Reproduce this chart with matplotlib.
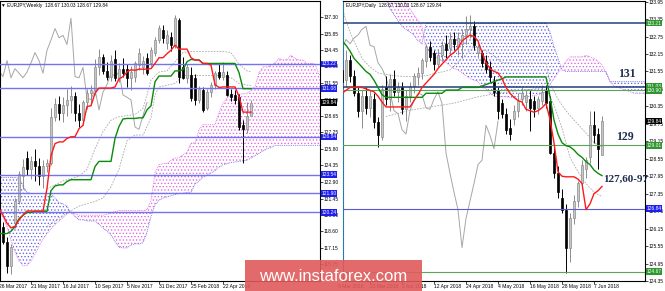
import numpy as np
import matplotlib
matplotlib.use("Agg")
import matplotlib.pyplot as plt
from matplotlib.patches import Rectangle

# ---------------- WEEKLY DATA (bar index 0 = week of 26 Mar 2017) ----------------
W_BAR_IDX = list(range(1, 64))
W_OPEN = [119.0, 117.7, 115.6, 119.3, 121.2, 123.4, 125.0, 124.0, 124.7, 124.3,
          123.4, 124.3, 124.6, 128.6, 129.7, 128.9, 129.6, 130.1, 130.4, 128.9,
          128.3, 129.9, 130.7, 130.9, 132.9, 133.8, 132.6, 132.1, 133.6, 132.0,
          132.8, 132.8, 132.0, 132.1, 133.1, 132.9, 133.7, 133.3, 134.2, 135.3,
          136.2, 135.0, 135.6, 134.8, 137.0, 132.9, 132.0, 132.2, 132.0, 130.1,
          130.9, 129.4, 130.75, 131.4, 132.5, 132.1, 132.2, 130.6, 130.5, 130.3,
          127.9, 127.5, 128.67]
W_HIGH = [119.4, 118.1, 117.5, 121.5, 123.9, 124.9, 125.6, 125.2, 125.8, 125.0,
          124.8, 124.9, 129.4, 130.2, 130.4, 130.3, 131.0, 131.3, 130.8, 129.7,
          130.1, 131.0, 131.4, 133.6, 134.5, 134.1, 133.4, 134.0, 134.4, 133.3,
          133.7, 133.2, 133.0, 133.5, 134.6, 133.9, 134.2, 134.7, 135.6, 136.6,
          136.6, 136.2, 136.0, 137.5, 137.2, 133.8, 133.2, 132.9, 132.3, 131.3,
          131.2, 131.0, 131.6, 132.6, 133.3, 133.4, 132.6, 131.0, 130.9, 130.6,
          128.3, 129.9, 130.03]
W_LOW = [117.5, 115.0, 114.9, 118.9, 121.0, 122.3, 123.5, 123.2, 123.0, 122.6,
         122.4, 123.8, 124.4, 128.2, 128.3, 128.1, 128.7, 128.9, 128.2, 127.7,
         127.9, 129.3, 129.7, 130.5, 132.2, 132.3, 131.8, 131.7, 131.7, 131.6,
         132.1, 131.2, 130.9, 131.6, 132.7, 132.3, 132.2, 133.0, 133.9, 135.0,
         135.0, 134.5, 134.3, 134.6, 131.5, 131.9, 131.5, 130.0, 129.6, 129.8,
         129.0, 129.2, 130.3, 131.0, 131.9, 131.8, 130.4, 130.0, 129.7, 127.4,
         124.6, 127.2, 128.67]
W_CLOSE = [117.7, 115.6, 117.2, 121.2, 123.6, 124.2, 124.0, 124.7, 124.3, 123.4,
           124.3, 124.6, 128.6, 129.7, 128.9, 129.6, 130.1, 130.4, 128.9, 128.3,
           129.9, 130.7, 130.9, 132.9, 133.8, 132.6, 132.1, 133.5, 132.0, 132.8,
           132.4, 132.0, 132.5, 133.3, 134.2, 133.5, 132.4, 134.4, 135.3, 136.3,
           135.5, 135.7, 134.9, 137.2, 132.1, 132.0, 132.9, 130.2, 130.1, 131.0,
           129.2, 130.75, 131.4, 132.4, 132.1, 132.5, 130.5, 130.3, 130.06, 127.7,
           127.5, 128.7, 129.84]

W_LINE_IDX = list(range(0, 64))
W_TENKAN = [120.6, 120.0, 119.3, 118.9, 119.0, 119.6, 120.0, 120.37, 120.37, 120.35,
            120.35, 120.35, 122.35, 125.2, 126.25, 126.4, 126.4, 126.7, 126.85, 126.85,
            127.55, 127.85, 129.5, 129.55, 130.65, 131.1, 131.1, 131.1, 131.1, 131.2,
            131.9, 132.1, 132.5, 132.7, 132.65, 132.75, 132.75, 132.75, 132.8, 133.25,
            133.75, 133.75, 134.1, 134.4, 134.85, 134.5, 134.5, 134.5, 133.75, 133.55,
            133.55, 133.25, 133.25, 133.1, 131.4, 131.15, 131.2, 131.2, 131.2, 131.2,
            130.4, 129.0, 129.0, 129.0]
W_KIJUN = [118.4, 118.4, 118.4, 118.6, 119.0, 119.7, 120.0, 120.25, 120.25, 120.35,
           120.35, 120.35, 120.35, 122.15, 122.55, 122.65, 122.65, 122.95, 123.1, 123.1,
           123.1, 123.1, 123.1, 123.1, 124.25, 124.7, 124.7, 124.7, 124.7, 126.7,
           127.75, 128.4, 128.45, 128.45, 128.45, 128.5, 128.5, 129.2, 129.55, 131.65,
           132.15, 132.15, 132.15, 132.15, 132.6, 132.6, 132.7, 133.4, 133.6, 133.55,
           133.55, 133.25, 133.25, 133.25, 133.25, 133.25, 133.25, 133.25, 133.25, 133.25,
           132.45, 131.05, 131.05, 131.05]

W_SPAN_IDX = list(range(0, 82))
W_SPAN_A = [120.5, 119.8, 119.0, 117.8, 116.8, 116.0, 115.6, 115.6, 116.0, 116.6,
            117.3, 117.9, 118.4, 118.8, 119.2, 119.5, 119.8, 120.1, 120.3, 120.1,
            120.0, 120.0, 120.0, 120.0, 120.0, 120.0, 120.0, 120.1, 120.2, 120.3,
            120.4, 120.4, 120.4, 120.4, 120.4, 120.4, 120.4, 120.5, 121.3, 123.7,
            124.4, 124.5, 124.5, 124.8, 125.0, 125.0, 125.3, 125.5, 126.3, 126.3,
            127.45, 127.9, 127.9, 127.9, 127.9, 128.95, 129.8, 130.25, 130.5, 130.6,
            130.55, 130.6, 130.6, 131.0, 131.2, 132.45, 132.95, 132.95, 133.1, 133.3,
            133.7, 133.55, 133.6, 133.95, 133.7, 133.55, 133.55, 133.25, 133.25, 133.2,
            132.3, 132.2]
W_SPAN_B = [123.3, 123.3, 123.3, 123.3, 123.3, 123.2, 122.6, 122.0, 121.9, 121.9,
            121.9, 121.9, 121.9, 121.9, 121.5, 121.1, 121.0, 120.8, 120.2, 119.9,
            119.6, 119.6, 119.5, 119.5, 119.5, 119.2, 118.9, 118.6, 118.3, 117.7,
            117.2, 117.15, 117.15, 117.4, 117.5, 117.5, 117.6, 118.5, 119.9, 120.9,
            121.3, 121.5, 121.6, 121.7, 121.8, 121.9, 121.9, 122.0, 122.0, 122.7,
            123.0, 123.3, 123.5, 123.7, 123.9, 124.2, 124.4, 124.5, 124.6, 124.65,
            124.7, 124.75, 124.8, 125.0, 125.2, 125.4, 125.6, 125.8, 125.9, 126.1,
            126.1, 126.1, 126.1, 126.1, 126.1, 126.1, 126.1, 126.1, 126.1, 126.1,
            126.1, 126.1]

W_DASH1_X = [12, 16, 20, 22, 24, 26, 28, 30, 34, 36, 37, 38, 40, 42, 44, 46, 48, 56, 58, 60, 62, 63]
W_DASH1_Y = [122.3, 123.0, 123.4, 124.0, 125.8, 127.3, 128.3, 128.6, 128.8, 129.3, 130.5,
             131.8, 132.5, 132.6, 133.4, 134.2, 134.3, 134.3, 134.2, 133.2, 132.6, 132.5]
W_DASH2_X = [12, 16, 20, 24, 26, 28, 30, 32, 34, 36, 38, 39, 40, 44, 46, 56, 58, 60, 63]
W_DASH2_Y = [119.0, 120.0, 120.8, 121.2, 121.5, 122.5, 124.0, 126.5, 127.0, 127.0, 128.5,
             130.5, 131.2, 131.5, 132.2, 132.2, 132.0, 131.5, 131.3]

W_LEVELS = [133.22, 131.08, 126.84, 123.54, 121.90, 120.24]
W_LEVEL_LABELS = ["133.22", "131.08", "126.84", "123.54", "121.90", "120.24"]
W_YTICKS = [137.30, 135.85, 134.45, 133.00, 131.55, 130.10, 128.65, 127.25,
            125.80, 124.35, 122.90, 121.45, 120.00, 118.60, 117.15, 115.75]
W_XTICK_POS = [0, 8, 16, 24, 32, 40, 48, 56]
W_XTICK_LABELS = ["26 Mar 2017", "21 May 2017", "16 Jul 2017", "10 Sep 2017",
                  "5 Nov 2017", "31 Dec 2017", "25 Feb 2018", "22 Apr 2018"]

# ---------------- DAILY DATA (bar index 0 = 9 Mar 2018) ----------------
D_BAR_IDX = list(range(1, 67))
D_OPEN = [131.6, 131.25, 131.95, 131.4, 130.8, 130.2, 130.7, 130.3, 130.6, 129.8,
          129.3, 131.0, 130.6, 131.3, 130.85, 131.0, 130.25, 130.7, 131.05, 131.35,
          131.5, 131.9, 132.4, 132.2, 131.8, 132.1, 132.5, 132.35, 132.65, 132.4,
          132.5, 132.8, 133.0, 133.1, 132.2, 132.2, 131.9, 131.7, 131.2, 130.9,
          130.45, 130.1, 129.6, 129.9, 130.2, 130.6, 130.5, 130.6, 130.55, 130.3,
          130.55, 130.9, 130.55, 128.75, 128.05, 127.2, 126.8, 125.5, 126.5, 127.1,
          127.7, 128.2, 128.6, 129.7, 129.4, 128.67]
D_HIGH = [131.9, 132.3, 132.1, 131.6, 131.0, 130.9, 131.0, 130.9, 130.8, 130.0,
          131.1, 131.4, 131.45, 131.6, 131.2, 131.2, 130.9, 131.2, 131.5, 131.7,
          132.0, 132.5, 132.6, 132.3, 132.3, 132.6, 132.8, 132.9, 132.9, 132.9,
          133.0, 133.45, 133.5, 133.3, 132.5, 132.3, 132.1, 131.9, 131.4, 131.0,
          130.6, 130.3, 129.9, 130.4, 130.8, 131.0, 130.9, 130.9, 130.7, 130.7,
          131.1, 131.1, 130.7, 129.0, 128.3, 127.5, 127.0, 126.7, 127.3, 127.8,
          128.5, 128.6, 130.2, 130.2, 129.6, 130.03]
D_LOW = [130.9, 131.0, 131.2, 130.7, 130.0, 129.6, 130.1, 130.0, 129.6, 128.95,
         129.2, 130.4, 130.2, 130.7, 130.5, 130.1, 129.85, 130.5, 130.8, 131.1,
         131.3, 131.7, 131.9, 131.6, 131.7, 131.9, 132.0, 132.1, 132.3, 132.1,
         132.0, 132.5, 132.7, 132.3, 132.0, 131.7, 131.5, 131.2, 130.7, 129.9,
         129.95, 129.4, 129.2, 129.7, 130.0, 130.4, 130.2, 129.5, 130.0, 130.1,
         130.4, 130.3, 128.7, 127.9, 127.2, 126.7, 124.61, 125.0, 126.3, 126.9,
         127.5, 127.9, 128.4, 129.1, 128.2, 128.67]
D_CLOSE = [131.2, 131.95, 131.4, 130.8, 130.2, 130.7, 130.3, 130.7, 129.8, 129.35,
           130.95, 130.6, 131.3, 130.85, 131.0, 130.25, 130.7, 131.05, 131.4, 131.5,
           131.95, 132.4, 132.05, 131.8, 132.1, 132.45, 132.3, 132.65, 132.5, 132.7,
           132.8, 133.0, 133.1, 132.45, 132.4, 131.85, 131.65, 131.35, 130.85, 130.2,
           130.1, 129.55, 129.4, 130.2, 130.55, 130.8, 130.75, 130.3, 130.25, 130.6,
           130.85, 130.45, 128.75, 128.05, 127.4, 126.8, 125.5, 126.5, 127.1, 127.7,
           128.35, 128.5, 129.7, 129.35, 128.9, 129.84]

D_TENKAN = [130.8, 130.9, 131.0, 131.0, 131.0, 131.0, 130.95, 130.9, 130.85, 130.7,
            130.5, 130.33, 130.33, 130.33, 130.33, 130.33, 130.33, 130.33, 130.55, 130.75,
            131.0, 131.15, 131.3, 131.45, 131.65, 131.8, 131.95, 132.1, 132.2, 132.35,
            132.6, 132.7, 132.8, 132.75, 132.6, 132.2, 131.85, 131.65, 131.55, 131.5,
            131.3, 131.0, 130.8, 130.66, 130.55, 130.5, 130.25, 130.2, 130.15, 130.2,
            130.3, 130.45, 129.9, 129.1, 128.1, 127.95, 127.93, 127.93, 127.93, 127.85,
            127.7, 126.8, 127.0, 127.35, 127.45, 127.6]
D_KIJUN = [132.6, 132.45, 132.25, 132.0, 131.85, 131.7, 131.55, 131.45, 131.25, 131.0,
           130.75, 130.66, 130.66, 130.66, 130.66, 130.66, 130.66, 130.66, 130.66, 130.66,
           130.66, 130.8, 130.8, 130.8, 130.8, 130.8, 130.91, 130.91, 130.91, 130.91,
           131.0, 131.0, 131.0, 131.0, 131.0, 131.05, 131.1, 131.15, 131.2, 131.25,
           131.3, 131.36, 131.36, 131.36, 131.36, 131.36, 131.36, 131.36, 131.36, 131.36,
           131.36, 131.36, 130.68, 129.88, 129.4, 129.1, 129.0, 128.96, 128.85, 128.7,
           128.6, 128.45, 128.35, 128.16, 128.05, 127.97]

D_SPAN_IDX = list(range(1, 78))
D_SPAN_A = [135.6, 135.5, 135.4, 135.3, 135.2, 135.0, 134.9, 134.8, 134.7, 134.6,
            134.5, 134.4, 134.3, 134.2, 134.1, 134.0, 133.9, 133.7, 133.5, 133.3,
            133.1, 132.3, 132.2, 132.1, 132.0, 131.9, 131.85, 131.75, 131.65, 131.6,
            131.5, 131.4, 131.3, 131.25, 131.2, 131.0, 130.95, 130.8, 130.7, 130.68,
            130.68, 130.68, 130.66, 130.66, 130.6, 130.6, 130.66, 130.7, 130.72, 130.75,
            130.75, 130.9, 131.1, 131.3, 131.5, 131.7, 131.9, 132.05, 132.05, 132.05,
            132.05, 132.1, 132.05, 132.0, 131.9, 131.77, 131.5, 131.2, 131.05, 131.0,
            130.95, 130.9, 130.85, 130.8, 130.8, 130.8, 130.8]
D_SPAN_B = [135.0, 135.0, 135.0, 135.0, 135.0, 135.0, 135.0, 135.0, 135.0, 135.0,
            134.4, 134.0, 133.7, 133.5, 133.3, 133.1, 133.0, 132.9, 132.8, 132.6,
            132.5, 133.21, 133.21, 133.21, 133.21, 133.21, 133.21, 133.21, 133.21, 133.21,
            133.21, 133.21, 133.21, 133.21, 133.21, 133.21, 133.21, 133.21, 133.21, 133.21,
            133.21, 133.21, 133.21, 133.21, 133.21, 133.21, 133.21, 133.21, 133.21, 133.21,
            133.21, 133.21, 132.9, 132.4, 132.0, 131.6, 131.55, 131.55, 131.55, 131.55,
            131.55, 131.55, 131.55, 131.55, 131.55, 131.55, 131.55, 131.2, 131.2, 131.2,
            131.2, 131.2, 131.2, 131.2, 131.2, 131.2, 131.2]

D_DASH1_X = [1, 2, 3, 4, 6, 8, 10, 14, 18, 22, 28, 34, 38, 41, 52, 53, 55, 57, 59, 62, 64, 66]
D_DASH1_Y = [133.75, 133.3, 132.9, 132.6, 132.0, 131.7, 131.5, 131.4, 131.37, 131.4, 131.6,
             132.4, 132.2, 131.85, 131.83, 131.15, 130.6, 130.2, 129.88, 129.43, 129.1, 128.96]
D_DASH2_X = [12, 18, 29, 35, 40, 46, 52, 54, 56, 58, 60, 62, 64, 66]
D_DASH2_Y = [130.0, 130.22, 130.46, 130.68, 130.8, 130.9, 131.0, 130.4, 129.6, 128.6,
             128.1, 127.7, 127.4, 127.25]

D_YTICKS = [133.95, 133.35, 132.75, 132.15, 131.55, 130.95, 130.35, 129.75, 129.15,
            128.55, 127.95, 127.35, 126.75, 126.15, 125.55, 124.95, 124.35]
D_XTICK_POS = [0, 8, 16, 24, 32, 40, 48, 56, 64]
D_XTICK_LABELS = ["9 Mar 2018", "21 Mar 2018", "2 Apr 2018", "12 Apr 2018", "24 Apr 2018",
                  "4 May 2018", "16 May 2018", "28 May 2018", "7 Jun 2018"]
LAST_PRICE = 129.84

# ---------------- STYLE ----------------
plt.rcParams['font.family'] = ['Liberation Sans', 'DejaVu Sans']
plt.rcParams['hatch.linewidth'] = 0.55

W, H = 665, 291
fig = plt.figure(figsize=(W / 100, H / 100), dpi=100)
fig.patch.set_facecolor('white')


def add_ax(x0, x1, y0, y1):
    return fig.add_axes([x0 / W, 1 - y1 / H, (x1 - x0) / W, (y1 - y0) / H])


axL = add_ax(0, 320, 1, 281)
axR = add_ax(343, 645, 1, 281)

PINK = '#e064e0'
BLUEC = '#6464e6'
TICK_FS = 3.55


def draw_cloud(ax, x, a, b):
    x = np.asarray(x, float); a = np.asarray(a, float); b = np.asarray(b, float)
    plt.rcParams['hatch.color'] = PINK
    ax.fill_between(x, a, b, where=a >= b, interpolate=True, facecolor='none',
                    edgecolor=PINK, hatch='.....', linewidth=0, zorder=1)
    plt.rcParams['hatch.color'] = BLUEC
    ax.fill_between(x, a, b, where=a < b, interpolate=True, facecolor='none',
                    edgecolor=BLUEC, hatch='.....', linewidth=0, zorder=1)
    ax.plot(x, a, color=PINK, lw=0.6, ls=(0, (1, 1.2)), zorder=1.5)
    ax.plot(x, b, color=BLUEC, lw=0.6, ls=(0, (1, 1.2)), zorder=1.5)


def draw_candles(ax, x, o, h, l, c):
    x = np.asarray(x, float); o = np.asarray(o, float); h = np.asarray(h, float)
    l = np.asarray(l, float); c = np.asarray(c, float)
    up = c >= o
    dn = ~up
    ax.vlines(x[up], l[up], h[up], colors='#8c8c8c', lw=0.7, zorder=3)
    ax.vlines(x[dn], l[dn], h[dn], colors='#000000', lw=0.7, zorder=3)
    ax.bar(x[up], c[up] - o[up], bottom=o[up], width=0.62, color='#c6c6c6',
           edgecolor='#8c8c8c', lw=0.5, zorder=3.2)
    ax.bar(x[dn], o[dn] - c[dn], bottom=c[dn], width=0.62, color='#000000',
           edgecolor='#000000', lw=0.5, zorder=3.2)


def box_label(ax, y, text, fc):
    ax.text(1.005, y, text, transform=ax.get_yaxis_transform(), ha='left', va='center',
            fontsize=TICK_FS, color='white', clip_on=False, zorder=12,
            bbox=dict(boxstyle='square,pad=0.15', fc=fc, ec='none'))


def style_axes(ax, yticks, xpos, xlabels, xlim):
    ax.set_facecolor('white')
    ax.yaxis.tick_right()
    ax.set_yticks(yticks)
    ax.set_yticklabels([f'{v:.2f}' for v in yticks])
    ax.tick_params(axis='y', labelsize=TICK_FS, length=1.8, width=0.5, pad=1.0)
    ax.set_xticks([p for p in xpos if xlim[0] <= p <= xlim[1]])
    ax.set_xticklabels([])
    ax.tick_params(axis='x', length=2, width=0.5)
    for p, lab in zip(xpos, xlabels):
        ax.text(p, -0.012, lab, transform=ax.get_xaxis_transform(), ha='left', va='top',
                fontsize=3.6, clip_on=False, zorder=1)
    for s in ax.spines.values():
        s.set_linewidth(0.8)
        s.set_color('black')


# ---------------- LEFT: WEEKLY ----------------
W_XLIM = (0.25, 80.25)
axL.set_xlim(*W_XLIM)
axL.set_ylim(114.26, 138.70)
draw_cloud(axL, W_SPAN_IDX, W_SPAN_A, W_SPAN_B)
axL.plot(W_DASH1_X, W_DASH1_Y, color='#a8a8a8', lw=0.6, ls=(0, (2, 1.5)), zorder=2)
axL.plot(W_DASH2_X, W_DASH2_Y, color='#a8a8a8', lw=0.6, ls=(0, (2, 1.5)), zorder=2)
axL.plot(np.asarray(W_BAR_IDX) - 26, W_CLOSE, color='#a6a6a6', lw=0.7, zorder=2.2)
for lv in W_LEVELS:
    axL.axhline(lv, color='#7373f2', lw=1.0, zorder=3.5)
draw_candles(axL, W_BAR_IDX, W_OPEN, W_HIGH, W_LOW, W_CLOSE)
axL.plot(W_LINE_IDX, W_KIJUN, color='#0a8a0a', lw=1.0, zorder=4)
axL.plot(W_LINE_IDX, W_TENKAN, color='#ff1a1a', lw=1.0, zorder=4.2)
style_axes(axL, W_YTICKS, W_XTICK_POS, W_XTICK_LABELS, W_XLIM)
for lv, lab in zip(W_LEVELS, W_LEVEL_LABELS):
    box_label(axL, lv, lab, '#1e1ef0')
box_label(axL, LAST_PRICE, f'{LAST_PRICE:.2f}', '#000000')

# ---------------- RIGHT: DAILY ----------------
D_XLIM = (1.25, 76.75)
axR.set_xlim(*D_XLIM)
axR.set_ylim(124.35, 133.97)
draw_cloud(axR, D_SPAN_IDX, D_SPAN_A, D_SPAN_B)
axR.plot(D_DASH1_X, D_DASH1_Y, color='#a8a8a8', lw=0.6, ls=(0, (2, 1.5)), zorder=2)
axR.plot(D_DASH2_X, D_DASH2_Y, color='#a8a8a8', lw=0.6, ls=(0, (2, 1.5)), zorder=2)
axR.plot(np.asarray(D_BAR_IDX) - 26, D_CLOSE, color='#a6a6a6', lw=0.7, zorder=2.2)
axR.axhline(133.21, color='#22407c', lw=1.1, zorder=3.5)
axR.axhline(131.03, color='#22407c', lw=1.1, zorder=3.5)
axR.axhline(130.90, color='#5aa55a', lw=0.8, zorder=3.5)
axR.axhline(129.01, color='#5aa55a', lw=0.8, zorder=3.5)
axR.axhline(126.84, color='#5a5ad6', lw=0.8, zorder=3.5)
axR.axhline(124.67, color='#5aa55a', lw=0.8, zorder=3.5)
draw_candles(axR, D_BAR_IDX, D_OPEN, D_HIGH, D_LOW, D_CLOSE)
axR.plot(D_BAR_IDX, D_KIJUN, color='#0a8a0a', lw=1.0, zorder=4)
axR.plot(D_BAR_IDX, D_TENKAN, color='#ff1a1a', lw=1.0, zorder=4.2)
style_axes(axR, D_YTICKS, D_XTICK_POS, D_XTICK_LABELS, D_XLIM)
axR.spines['left'].set_color('#2c78a8')
box_label(axR, 133.21, '133.21', '#2f962f')
box_label(axR, 131.03, '131.03', '#2f962f')
box_label(axR, 130.90, '130.90', '#2f962f')
box_label(axR, LAST_PRICE, f'{LAST_PRICE:.2f}', '#000000')
box_label(axR, 129.01, '129.01', '#2f962f')
box_label(axR, 126.84, '126.84', '#1e1ef0')
box_label(axR, 124.67, '124.67', '#2f962f')

# ---------------- TEXTS ----------------
fig.text(1 / W, 1 - 5 / H, '\u25bc EURJPY,Weekly  128.67 130.03 128.67 129.84',
         fontsize=3.4, ha='left', va='center', zorder=15)
fig.text(346 / W, 1 - 5 / H, 'EURJPY,Daily  128.67 130.03 128.67 129.84',
         fontsize=3.4, ha='left', va='center', zorder=15)
ANN = dict(fontweight='bold', family=['Liberation Serif', 'DejaVu Serif'],
           color='#1e2d4f', va='center', zorder=15)
fig.text(627 / W, 1 - 74 / H, '131', fontsize=8.5, ha='center', **ANN)
fig.text(625 / W, 1 - 137 / H, '129', fontsize=8.5, ha='center', **ANN)
fig.text(603 / W, 1 - 179 / H, '127,60-97', fontsize=8, ha='left', **ANN)

fig.add_artist(Rectangle((245 / W, 0), (422 - 245) / W, (291 - 260) / H,
                         transform=fig.transFigure, fc='#e05a5a', ec='none',
                         alpha=0.9, zorder=20))
fig.text(333 / W, 1 - 281 / H, 'www.instaforex.com', fontsize=12, color='white',
         ha='center', va='baseline', zorder=21)

fig.savefig('out.png', dpi=100)
